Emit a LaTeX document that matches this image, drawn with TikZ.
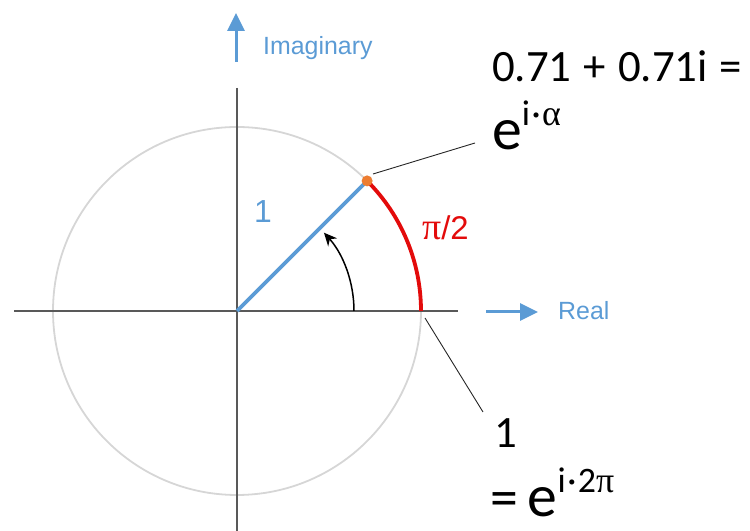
\documentclass[tikz,border=0pt]{standalone}
\usepackage{fontspec}
\setmainfont{Carlito}
\newfontfamily\arialf{Liberation Sans}
\newfontfamily\greekf{Liberation Serif}
\usetikzlibrary{arrows.meta,calc}
\definecolor{offblue}{HTML}{5B9BD5}
\definecolor{offred}{HTML}{E30B0B}
\definecolor{offorange}{HTML}{ED7D31}
\definecolor{circgray}{HTML}{D6D6D6}
\definecolor{axisgray}{HTML}{595959}
\tikzset{
  axisline/.style={draw=axisgray, line width=1.4bp},
  leader/.style={draw=black!85, line width=0.9bp},
  bluearrow/.style={draw=offblue, line width=3bp, -{Triangle[length=18bp,width=17bp]}},
  bluelabel/.style={text=offblue, font=\arialf\fontsize{25}{25}\selectfont, anchor=base west, inner sep=0pt},
  bigtext/.style={font=\fontsize{45}{45}\selectfont, anchor=base west, inner sep=0pt},
}
\newcommand{\bigE}[1]{{\fontsize{60}{60}\selectfont e}\raisebox{24bp}{\fontsize{36}{36}\selectfont #1}}
\newcommand{\sdot}{\kern1.5bp·\kern1.5bp}
\newcommand{\wsp}{\hspace{12bp}}
\begin{document}
\begin{tikzpicture}[x=1bp,y=1bp]
\useasboundingbox (0,0) rectangle (750,531);
\coordinate (O) at (237,220);
\coordinate (P) at ($(O)+(45:184)$);
% circle
\draw[draw=circgray, line width=1.8bp] (O) circle (184);
% axes
\draw[axisline] (14,220) -- (458,220);
\draw[axisline] (237,443) -- (237,0);
% red arc
\draw[draw=offred, line width=3.8bp] ($(O)+(0:184)$) arc (0:45:184);
% radius
\draw[draw=offblue, line width=3.8bp] (O) -- (P);
% angle arrow
\draw[line width=1.5bp, -{Stealth[length=13bp,width=12bp]}] ($(O)+(0:117)$) arc (0:42:117);
% dot
\fill[offorange] (P) circle (5.5);
% axis arrows and labels
\draw[bluearrow] (236,469) -- (236,518);
\node[bluelabel] (imag) at (263,476) {Imaginary};
\draw[bluearrow] (486,219) -- (538,219);
\node[bluelabel] (real) at (558,211) {Real};
\node[text=offblue, font=\arialf\fontsize{32}{32}\selectfont, inner sep=0pt] (one) at (263,319) {1};
\node[text=offred, font=\arialf\fontsize{33}{33}\selectfont, anchor=base west, inner sep=0pt] (pi) at (422,291) {{\greekf\fontsize{38}{38}\selectfont π}/2};
% texts
\node[bigtext] (t1) at (492,449) {0.71\wsp+\wsp0.71i\wsp=};
\node[bigtext] (t2) at (492,381) {\bigE{i\sdot{\greekf α}}};
\node[bigtext] (t3) at (494,83) {1};
\node[bigtext] (t4) at (490,14) {{\fontsize{56}{56}\selectfont =}\hspace{10bp}\bigE{i\sdot 2{\greekf π}}};
% leaders
\coordinate (l1a) at (373,357);
\coordinate (l1b) at (475,388);
\coordinate (l2a) at (425,213);
\coordinate (l2b) at (483,119);
\draw[leader] (l1a) -- (l1b);
\draw[leader] (l2a) -- (l2b);
\end{tikzpicture}
\end{document}
